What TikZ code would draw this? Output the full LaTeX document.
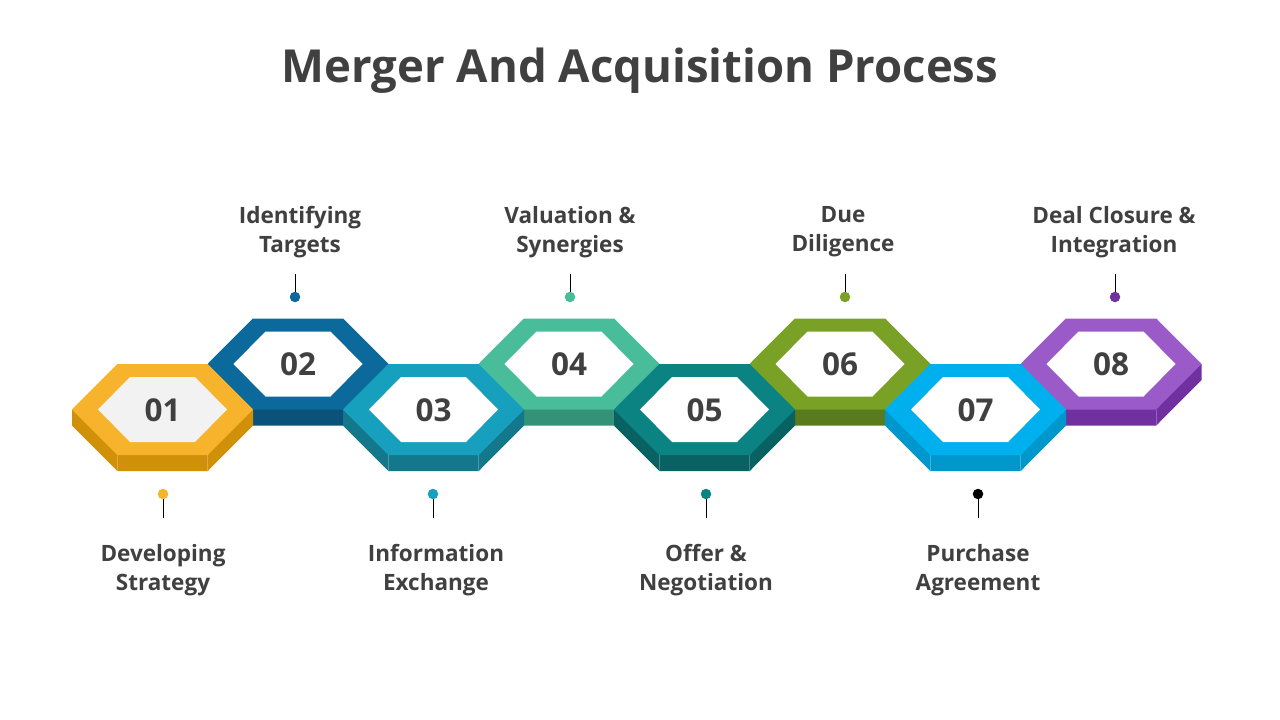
\documentclass[tikz,border=0pt]{standalone}
\usepackage{fontspec}
\setmainfont{Open Sans}
\usepackage{tikz}
\usetikzlibrary{shapes}
\definecolor{txt}{HTML}{404040}
\definecolor{face01}{HTML}{F6B32B}\definecolor{side01}{HTML}{D19009}
\definecolor{face02}{HTML}{0B6A9B}\definecolor{side02}{HTML}{0A5279}
\definecolor{face03}{HTML}{17A0BE}\definecolor{side03}{HTML}{13788C}
\definecolor{face04}{HTML}{49BD9A}\definecolor{side04}{HTML}{349276}
\definecolor{face05}{HTML}{0B8383}\definecolor{side05}{HTML}{086262}
\definecolor{face06}{HTML}{79A126}\definecolor{side06}{HTML}{5A7A1E}
\definecolor{face07}{HTML}{00B0EE}\definecolor{side07}{HTML}{0098CC}
\definecolor{face08}{HTML}{9A5BC8}\definecolor{side08}{HTML}{7030A0}
% #1,#2 centre, #3 top face, #4 side, #5 inner fill
\newcommand{\mahex}[5]{%
  \begin{scope}[shift={(#1,#2)}]
    \fill[#4] (-90.5,0) -- (-90.5,16) -- (-45.25,61.5) -- (45.25,61.5) -- (90.5,16) -- (90.5,0) -- cycle;
    \draw[white,opacity=.25,line width=.6pt] (-45.25,45.5) -- (-45.25,61.5) (45.25,45.5) -- (45.25,61.5);
    \fill[#3] (-90.5,0) -- (-45.25,-45.5) -- (45.25,-45.5) -- (90.5,0) -- (45.25,45.5) -- (-45.25,45.5) -- cycle;
    \fill[#5] (-64.5,0) -- (-32.5,-32.5) -- (32.5,-32.5) -- (64.5,0) -- (32.5,32.5) -- (-32.5,32.5) -- cycle;
  \end{scope}}

\begin{document}
\begin{tikzpicture}[x=1pt, y=-1pt]
      \tikzstyle{every node}=[font=\bfseries, text=txt]
      \tikzstyle{lbl}=[align=center, font=\fontsize{22.5}{29}\selectfont\bfseries]
      \tikzstyle{num}=[font=\fontsize{31.5}{36}\selectfont\bfseries]
      \tikzstyle{dot}=[circle, inner sep=0pt, minimum size=10.5pt]
      \fill[white] (0,0) rectangle (1280,720);
      \useasboundingbox (0,0) rectangle (1280,720);
      %%
\node (title) at (640,71) [font=\fontsize{45.5}{52}\selectfont\bfseries] {Merger And Acquisition Process};
  %% top row first, bottom row over it
  \mahex{298}{364}{face02}{side02}{white}
  \mahex{569}{364}{face04}{side04}{white}
  \mahex{840}{364}{face06}{side06}{white}
  \mahex{1111}{364}{face08}{side08}{white}
  \mahex{162.5}{409.5}{face01}{side01}{black!5}
  \mahex{433.5}{409.5}{face03}{side03}{white}
  \mahex{704.5}{409.5}{face05}{side05}{white}
  \mahex{975.5}{409.5}{face07}{side07}{white}
  %%
  \node (n01) at (162.5,410) [num] {01};
  \node (n02) at (298,364.5) [num] {02};
  \node (n03) at (433.5,410) [num] {03};
  \node (n04) at (569,364.5) [num] {04};
  \node (n05) at (704.5,410) [num] {05};
  \node (n06) at (840,364.5) [num] {06};
  \node (n07) at (975.5,410) [num] {07};
  \node (n08) at (1111,364.5) [num] {08};
  %%
  \node (d01) at (163,494) [dot,fill=face01] {};
  \node (d02) at (295,297) [dot,fill=face02] {};
  \node (d03) at (433,494) [dot,fill=face03] {};
  \node (d04) at (570,297) [dot,fill=face04] {};
  \node (d05) at (706,494) [dot,fill=face05] {};
  \node (d06) at (845,297) [dot,fill=face06] {};
  \node (d07) at (978,494) [dot,fill=black] {};
  \node (d08) at (1115,297) [dot,fill=side08] {};
  \coordinate (e01) at (163,518);
  \coordinate (e02) at (295,274);
  \coordinate (e03) at (433,518);
  \coordinate (e04) at (570,274);
  \coordinate (e05) at (706,518);
  \coordinate (e06) at (845,274);
  \coordinate (e07) at (978,518);
  \coordinate (e08) at (1115,274);
  \draw [black, line width=.9pt] (d01) -- (e01);
  \draw [black, line width=.9pt] (d02) -- (e02);
  \draw [black, line width=.9pt] (d03) -- (e03);
  \draw [black, line width=.9pt] (d04) -- (e04);
  \draw [black, line width=.9pt] (d05) -- (e05);
  \draw [black, line width=.9pt] (d06) -- (e06);
  \draw [black, line width=.9pt] (d07) -- (e07);
  \draw [black, line width=.9pt] (d08) -- (e08);
  %%
  \node (l01) at (163,570) [lbl] {Developing\\Strategy};
  \node (l02) at (300,232) [lbl] {Identifying\\Targets};
  \node (l03) at (436,570) [lbl] {Information\\Exchange};
  \node (l04) at (570,232) [lbl] {Valuation \&\\Synergies};
  \node (l05) at (706,570) [lbl] {Offer \&\\Negotiation};
  \node (l06) at (843,232) [lbl] {Due\\Diligence};
  \node (l07) at (978,570) [lbl] {Purchase\\Agreement};
  \node (l08) at (1114,232) [lbl] {Deal Closure \&\\Integration};
%
\end{tikzpicture}
\end{document}
